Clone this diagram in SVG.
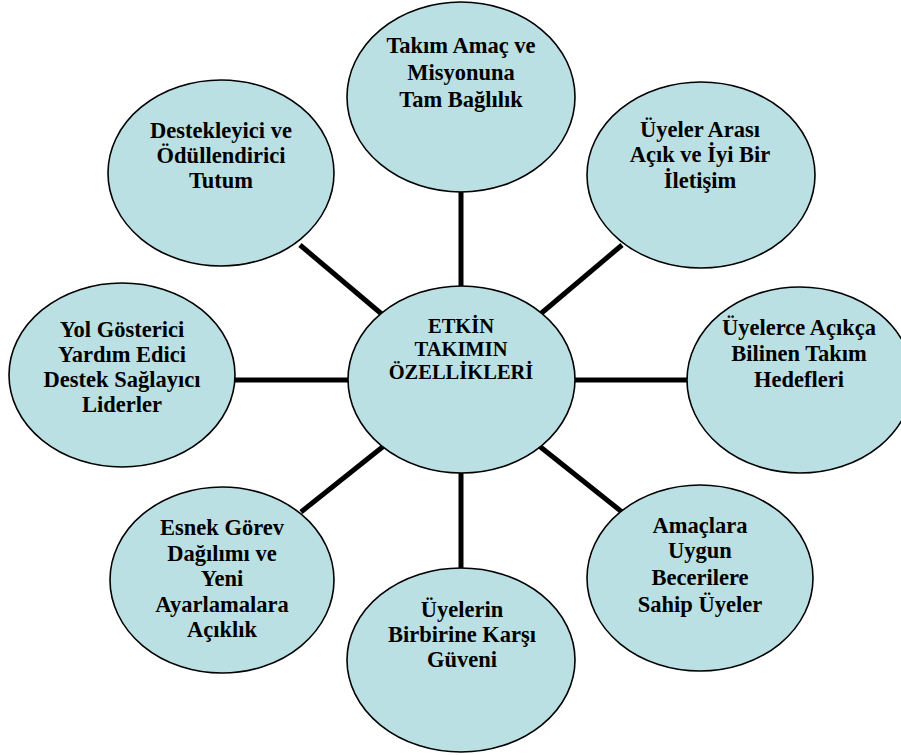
<svg xmlns="http://www.w3.org/2000/svg" width="901" height="755" viewBox="0 0 901 755">
<style>
.n{fill:#bbe0e3;stroke:#000;stroke-width:1.6}
.c line{stroke:#000;stroke-width:5}
text{font-family:'Liberation Serif','Times New Roman',Times,serif;font-weight:700;font-size:22.5px;text-anchor:middle;fill:#000}
.m{font-size:20.5px}
</style>
<rect width="901" height="755" fill="#fff"/>
<g id="connectors" class="c">
<line x1="461" y1="190" x2="461" y2="288"/>
<line x1="233" y1="380" x2="350" y2="380"/>
<line x1="573" y1="380" x2="689" y2="380"/>
<line x1="461" y1="471" x2="461" y2="570"/>
<line x1="300" y1="245" x2="384" y2="316"/>
<line x1="622" y1="245" x2="538" y2="316"/>
<line x1="301" y1="512" x2="385" y2="445"/>
<line x1="622" y1="512" x2="538" y2="445"/>
</g>
<g id="center"><ellipse class="n" cx="461.5" cy="379.5" rx="113.5" ry="93.5"/>
<text class="m" x="461" y="333">ETKİN</text><text class="m" x="461" y="356">TAKIMIN</text><text class="m" x="461" y="379">ÖZELLİKLERİ</text></g>
<g id="top"><ellipse class="n" cx="461" cy="97" rx="114" ry="95"/>
<text x="461" y="53">Takım Amaç ve</text><text x="461" y="80">Misyonuna</text><text x="461" y="107">Tam Bağlılık</text></g>
<g id="topright"><ellipse class="n" cx="701" cy="175" rx="114" ry="93"/>
<text x="700" y="137">Üyeler Arası</text><text x="700" y="162">Açık ve İyi Bir</text><text x="700" y="188">İletişim</text></g>
<g id="topleft"><ellipse class="n" cx="221" cy="173" rx="113" ry="93"/>
<text x="221" y="138">Destekleyici ve</text><text x="221" y="163">Ödüllendirici</text><text x="221" y="188">Tutum</text></g>
<g id="left"><ellipse class="n" cx="122" cy="375" rx="113" ry="92"/>
<text x="122" y="337">Yol Gösterici</text><text x="122" y="362">Yardım Edici</text><text x="122" y="387">Destek Sağlayıcı</text><text x="122" y="412">Liderler</text></g>
<g id="right"><ellipse class="n" cx="800" cy="380" rx="113" ry="93"/>
<text x="799" y="335">Üyelerce Açıkça</text><text x="799" y="361">Bilinen Takım</text><text x="799" y="387">Hedefleri</text></g>
<g id="bottomleft"><ellipse class="n" cx="222" cy="580" rx="112" ry="93"/>
<text x="222" y="535">Esnek Görev</text><text x="222" y="561">Dağılımı ve</text><text x="222" y="586">Yeni</text><text x="222" y="612">Ayarlamalara</text><text x="222" y="637">Açıklık</text></g>
<g id="bottom"><ellipse class="n" cx="461" cy="660" rx="114" ry="92"/>
<text x="462" y="617">Üyelerin</text><text x="462" y="642">Birbirine Karşı</text><text x="462" y="667">Güveni</text></g>
<g id="bottomright"><ellipse class="n" cx="700" cy="578" rx="113" ry="93"/>
<text x="700" y="533">Amaçlara</text><text x="700" y="558">Uygun</text><text x="700" y="585">Becerilere</text><text x="700" y="612">Sahip Üyeler</text></g>
</svg>
